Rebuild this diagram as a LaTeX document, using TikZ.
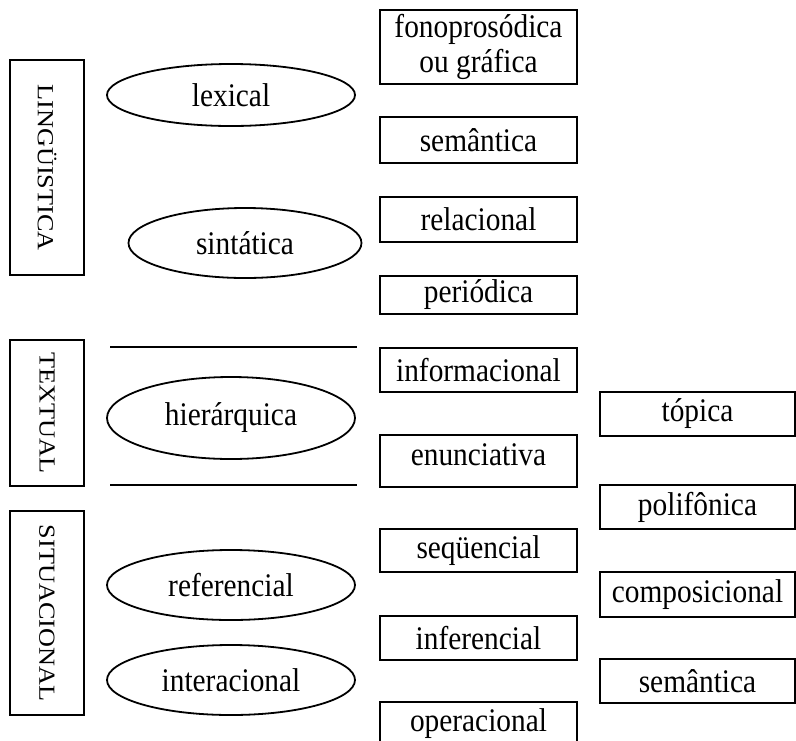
\documentclass[tikz,border=0pt]{standalone}
\usepackage{fontspec}
\setmainfont{Liberation Serif}[FakeStretch=0.89]
\newfontfamily\sidefont{Liberation Serif}[FakeStretch=1.14]
\usepackage{tikz}
\usetikzlibrary{shapes.geometric}

\tikzset{
  sidebox/.style={draw, line width=2pt, rotate=-90, minimum height=74pt, inner sep=0pt,
    font=\sidefont\fontsize{23}{26}\selectfont},
  oval/.style={draw, ellipse, line width=1.8pt, minimum width=248pt, inner sep=0pt},
  catbox/.style={draw, line width=2pt, minimum width=197pt, inner sep=0pt, align=center},
  subbox/.style={catbox, minimum width=195pt, minimum height=44pt},
}

\begin{document}
\begin{tikzpicture}[x=1pt, y=-1pt, font=\fontsize{33}{35}\selectfont]
      \useasboundingbox (0,0) rectangle (796,740);
      \node[sidebox, minimum width=215pt] (ling) at (47,167.5) {LINGÜISTICA};
      \node[sidebox, minimum width=146pt] (textual) at (47,413) {TEXTUAL};
      \node[sidebox, minimum width=204pt] (situ) at (47,613) {SITUACIONAL};

      \node[oval, minimum height=62pt] (lexical) at (231,95) {lexical};
      \node[oval, minimum width=233pt, minimum height=70pt] (sintatica) at (245,243) {sintática};
      \node[oval, minimum height=82pt] (hierarquica) at (231,418) {hierárquica};
      \node[oval, minimum height=70pt] (referencial) at (231,585) {referencial};
      \node[oval, minimum height=70pt] (interacional) at (231,680) {interacional};

      \draw[line width=2pt] (110,347) -- (357,347);
      \draw[line width=2pt] (110,485) -- (357,485);

      \node[catbox, minimum height=74pt] (fono) at (478.5,47) {fonoprosódica\\ou gráfica};
      \node[catbox, minimum height=46pt] (semantica) at (478.5,140) {semântica};
      \node[catbox, minimum height=45pt] (relacional) at (478.5,219.5) {relacional};
      \node[catbox, minimum height=38pt] (periodica) at (478.5,295) {periódica};
      \node[catbox, minimum height=44pt] (informacional) at (478.5,370) {informacional};
      \node[catbox, minimum height=52pt, text depth=12pt] (enunciativa) at (478.5,461) {enunciativa};
      \node[catbox, minimum height=43pt] (sequencial) at (478.5,550.5) {seqüencial};
      \node[catbox, minimum height=44pt] (inferencial) at (478.5,638) {inferencial};
      \node[catbox, minimum height=43pt] (operacional) at (478.5,723.5) {operacional};

      \node[subbox] (topica) at (697.5,414) {tópica};
      \node[subbox] (polifonica) at (697.5,507) {polifônica};
      \node[subbox, minimum height=45pt] (composicional) at (697.5,594.5) {composicional};
      \node[subbox] (semantica2) at (697.5,681) {semântica};
    \end{tikzpicture}
\end{document}
